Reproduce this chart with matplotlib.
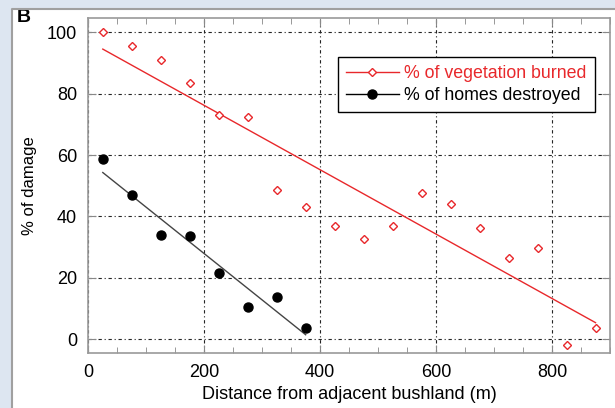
import numpy as np
import matplotlib
matplotlib.use('Agg')
import matplotlib.pyplot as plt
from matplotlib.patches import Rectangle
from matplotlib.lines import Line2D

plt.rcParams['font.family'] = ['Liberation Sans', 'DejaVu Sans']

# data
veg_dist = [25, 75, 125, 175, 225, 275, 325, 375, 425, 475, 525, 575, 625, 675, 725, 775, 825, 875]
veg_burned = [100, 95.6, 91, 83.5, 73.1, 72.4, 48.5, 43.1, 36.9, 32.8, 36.8, 47.7, 44.1, 36.2, 26.5, 29.7, -1.9, 3.6]
home_dist = [25, 75, 125, 175, 225, 275, 325, 375]
homes_destroyed = [58.8, 47, 34, 33.7, 21.7, 10.4, 13.8, 3.7]

x_ticks = [0, 200, 400, 600, 800]
y_ticks = [0, 20, 40, 60, 80, 100]

red = '#e8282b'
bg = '#dde6f1'

fig = plt.figure(figsize=(6.15, 4.08), dpi=100)
fig.patch.set_facecolor(bg)
W, H = 615.0, 408.0

# white panel, "B" label partly hidden under the top edge
fig.patches.append(Rectangle((12 / W, 0), 1, (H - 9) / H, transform=fig.transFigure,
                             facecolor='white', edgecolor='none', zorder=0.5))
fig.text(17 / W, (H - 21.5) / H, 'B', fontsize=14, fontweight='bold', ha='left', va='baseline', zorder=1)
fig.patches.append(Rectangle((0, (H - 9) / H), 1, 9 / H, transform=fig.transFigure,
                             facecolor=bg, edgecolor='none', zorder=2))
fig.lines.append(Line2D([12 / W, 12 / W, 1], [0, (H - 9) / H, (H - 9) / H], transform=fig.transFigure,
                        color='#a0a0a0', lw=1.5, zorder=3))

ax = fig.add_axes([88.3 / W, (H - 353.3) / H, (610 - 88.3) / W, (353.3 - 18.3) / H])
ax.set_zorder(5)

# fitted lines
vfit = np.polyfit(veg_dist, veg_burned, 1)
hfit = np.polyfit(home_dist, homes_destroyed, 1)
vx = np.array([veg_dist[0], veg_dist[-1]])
hx = np.array([home_dist[0], home_dist[-1]])
ax.plot(vx, np.polyval(vfit, vx), color=red, lw=1, zorder=3)
ax.plot(hx, np.polyval(hfit, hx), color='#444444', lw=1, zorder=3)

ax.plot(veg_dist, veg_burned, 'D', ms=4.2, mfc='white', mec=red, mew=1, zorder=4)
ax.plot(home_dist, homes_destroyed, 'o', ms=6.5, color='black', zorder=4)

ax.set_xlim(0, 900)
ax.set_ylim(-4.6, 104.6)
ax.set_xticks(x_ticks)
ax.set_xticks(np.arange(0, 901, 50), minor=True)
ax.set_yticks(y_ticks)
ax.grid(True, which='major', color='#222222', lw=0.8, linestyle=(0, (3, 2.5, 1, 2.5)))
ax.set_axisbelow(True)
ax.tick_params(which='both', direction='in', top=True, right=True, color='#888888', labelsize=13, pad=8)
ax.tick_params(which='major', length=6)
ax.tick_params(which='minor', length=4)
ax.tick_params(axis='y', which='minor', left=False, right=False)
for s in ax.spines.values():
    s.set_color('#999999')
    s.set_linewidth(1.2)

ax.set_xlabel('Distance from adjacent bushland (m)', fontsize=13, labelpad=3)
ax.set_ylabel('% of damage', fontsize=12, labelpad=7)

handles = [Line2D([], [], color=red, lw=1, marker='D', ms=4.2, mfc='white', mec=red, mew=1),
           Line2D([], [], color='black', lw=1, marker='o', ms=6.5)]
leg = ax.legend(handles, ['% of vegetation burned', '% of homes destroyed'], loc='upper right',
                bbox_to_anchor=(0.971, 0.884), borderaxespad=0, fontsize=12.8, fancybox=False,
                edgecolor='black', framealpha=1, handlelength=3.0, handletextpad=0.3,
                labelspacing=0.3, borderpad=0.45)
leg.get_frame().set_linewidth(1)
leg.get_texts()[0].set_color(red)

fig.savefig('out.png', dpi=100, facecolor=fig.get_facecolor())
